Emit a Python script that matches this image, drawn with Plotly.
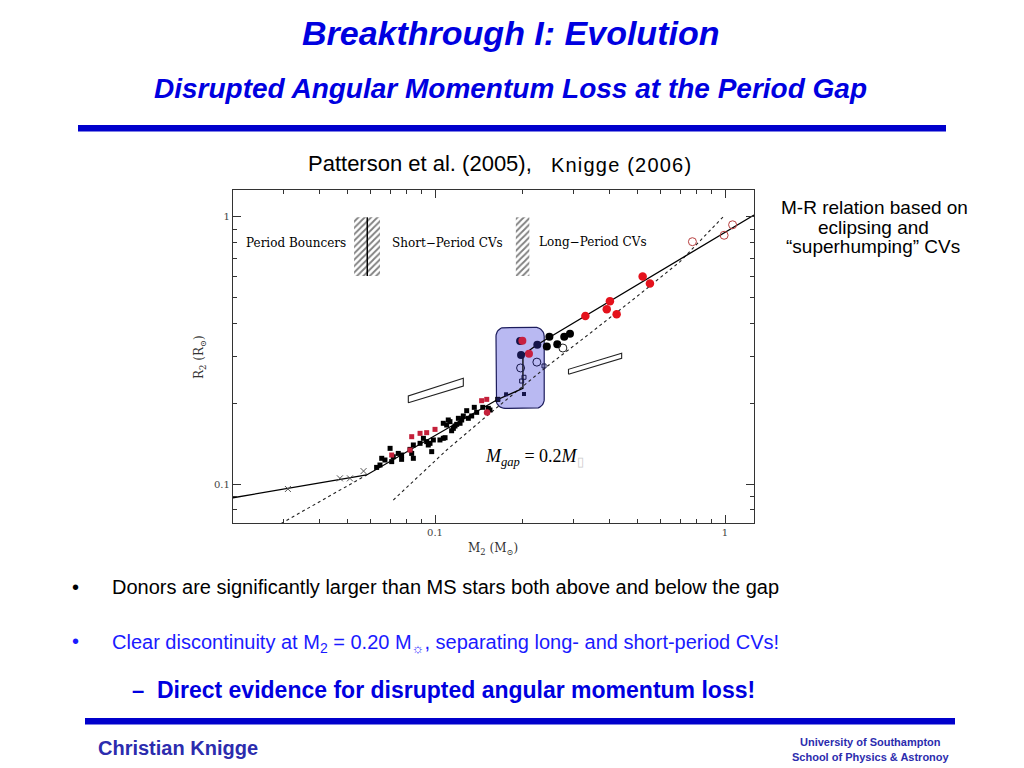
import numpy as np
import plotly.graph_objects as go

# ---------------- data (M2 in Msun, R2 in Rsun) ----------------
# short-period CVs (black squares)
sp_M = [0.1645, 0.1547, 0.1527, 0.1461, 0.1366, 0.1392, 0.1338, 0.1286, 0.1303, 0.1252,
        0.1236, 0.1204, 0.1188, 0.1172, 0.1157, 0.1126, 0.1111, 0.1097, 0.1141, 0.1068,
        0.1083, 0.1040, 0.0987, 0.0961, 0.0936, 0.0948, 0.0912, 0.0888, 0.0842, 0.0842,
        0.0831, 0.0820, 0.0767, 0.0747, 0.0718, 0.0700, 0.0709, 0.0672, 0.0655, 0.0646,
        0.0629, 0.0974, 0.1220, 0.1068, 0.0767]
sp_R = [0.2075, 0.1893, 0.1920, 0.1937, 0.1937, 0.1855, 0.1798, 0.1882, 0.1762, 0.1798,
        0.1737, 0.1762, 0.1673, 0.1649, 0.1616, 0.1712, 0.1737, 0.1663, 0.1583, 0.1688,
        0.1491, 0.1462, 0.1462, 0.1420, 0.1441, 0.1400, 0.1483, 0.1420, 0.1400, 0.1248,
        0.1302, 0.1348, 0.1284, 0.1302, 0.1265, 0.1360, 0.1213, 0.1230, 0.1248, 0.1178,
        0.1154, 0.1322, 0.1688, 0.1483, 0.1237]
# short-period CVs (red squares)
spr_M = [0.1508, 0.1448, 0.1000, 0.0936, 0.0888, 0.0831, 0.0820, 0.0709]
spr_R = [0.2075, 0.2051, 0.1602, 0.1557, 0.1548, 0.1504, 0.1340, 0.1284]
spr_round_M = [0.1512]
spr_round_R = [0.1852]
# period bouncers (crosses)
pb_M = [0.0311, 0.0470, 0.0509, 0.0567]
pb_R = [0.0958, 0.1050, 0.1050, 0.1118]
# long-period CVs
lp_red_M = [0.520, 0.551, 0.401, 0.391, 0.423, 0.330]
lp_red_R = [0.598, 0.564, 0.484, 0.451, 0.432, 0.426]
lp_open_M = [0.772, 0.993, 1.062]
lp_open_R = [0.808, 0.854, 0.935]
lp_blk_M = [0.248, 0.243, 0.264, 0.279, 0.292]
lp_blk_R = [0.356, 0.327, 0.334, 0.356, 0.365]
lp_blk_open_M = [0.276]
lp_blk_open_R = [0.323]
# systems inside the gap box
gap_navy_M = [0.1965, 0.2253, 0.1980]
gap_navy_R = [0.343, 0.332, 0.304]
gap_red_M = [0.2001, 0.2109]
gap_red_R = [0.344, 0.3076]
gap_open_M = [0.1973, 0.2245]
gap_open_R = [0.272, 0.286]
gap_osq_M = [0.199, 0.2027, 0.2376]
gap_osq_R = [0.243, 0.251, 0.2767]
gap_sq_M = [0.1653, 0.1758, 0.2027]
gap_sq_R = [0.2075, 0.2168, 0.2173]
# broken-power-law donor sequence (solid)
model_M = [0.0201, 0.0581, 0.1632, 0.2010, 0.2010, 0.2242, 1.259]
model_R = [0.0888, 0.1081, 0.2064, 0.2282, 0.3041, 0.3317, 1.017]
# dotted reference sequences
msA_M = [0.0295, 0.0581]
msA_R = [0.0712, 0.1081]
msB_M = [0.0718, 0.1097, 0.1547, 0.2427, 0.3423, 0.4960, 0.6996, 0.9865]
msB_R = [0.0871, 0.1341, 0.1840, 0.2750, 0.3667, 0.5030, 0.6803, 1.0025]
# hatched boundaries (period minimum, period gap)
band1_M = [0.0526, 0.0646]
band1_mid = 0.0584
band2_M = [0.190, 0.2115]
band_R = [0.601, 0.997]
# open parallelograms
para1_M = [0.0809, 0.0809, 0.1252, 0.1252]
para1_R = [0.2016, 0.2136, 0.2488, 0.2328]
para2_M = [0.2886, 0.2886, 0.4402, 0.4402]
para2_R = [0.2575, 0.2689, 0.3087, 0.2957]
# highlight box around the gap
box_M = [0.1623, 0.238]
box_R = [0.192, 0.3863]

x_major = [0.1, 1]
x_major_text = ["0.1", "1"]
x_minor = [0.03, 0.04, 0.05, 0.06, 0.07, 0.08, 0.09, 0.2, 0.3, 0.4, 0.5, 0.6, 0.7, 0.8, 0.9]
y_major = [0.1, 1]
y_major_text = ["0.1", "1"]
y_minor = [0.08, 0.09, 0.2, 0.3, 0.4, 0.5, 0.6, 0.7, 0.8, 0.9]

# ---------------- figure ----------------
W, H = 1024, 768
def px(x):
    return x / W
def py(y):
    return 1 - y / H

fig = go.Figure()

# rounded highlight box (built in log space)
lx0, lx1 = np.log10(box_M)
ly0, ly1 = np.log10(box_R)
rx, ry = 9 / 290, 9 / 267
bx, by = [], []
for cx, cy, a0 in [(lx1 - rx, ly1 - ry, 0), (lx0 + rx, ly1 - ry, 90),
                   (lx0 + rx, ly0 + ry, 180), (lx1 - rx, ly0 + ry, 270)]:
    t = np.radians(np.linspace(a0, a0 + 90, 10))
    bx.extend(cx + rx * np.cos(t))
    by.extend(cy + ry * np.sin(t))
bx.append(bx[0]); by.append(by[0])
fig.add_trace(go.Scatter(x=10 ** np.array(bx), y=10 ** np.array(by), mode="lines",
                         fill="toself", fillcolor="#b9b9f2",
                         line=dict(color="#1c1c5c", width=1.2), hoverinfo="skip"))

# hatched bands
for bm in (band1_M, band2_M):
    fig.add_trace(go.Scatter(x=[bm[0], bm[1], bm[1], bm[0], bm[0]],
                             y=[band_R[0], band_R[0], band_R[1], band_R[1], band_R[0]],
                             mode="lines", fill="toself", line=dict(width=0, color="rgba(0,0,0,0)"),
                             fillcolor="white",
                             fillpattern=dict(shape="/", fgcolor="black", bgcolor="white",
                                              size=4.5, solidity=0.4),
                             hoverinfo="skip"))
fig.add_trace(go.Scatter(x=[band1_mid, band1_mid], y=band_R, mode="lines",
                         line=dict(color="black", width=1.5), hoverinfo="skip"))

# dotted sequences
for mm, rr in ((msA_M, msA_R), (msB_M, msB_R)):
    fig.add_trace(go.Scatter(x=mm, y=rr, mode="lines",
                             line=dict(color="#222222", width=1.1, dash="dot"), hoverinfo="skip"))
# solid donor sequence
fig.add_trace(go.Scatter(x=model_M, y=model_R, mode="lines",
                         line=dict(color="black", width=1.3), hoverinfo="skip"))
# parallelograms
for mm, rr in ((para1_M, para1_R), (para2_M, para2_R)):
    fig.add_trace(go.Scatter(x=mm + mm[:1], y=rr + rr[:1], mode="lines",
                             line=dict(color="#222222", width=1.1), hoverinfo="skip"))

# markers
def pts(x, y, symbol, size, color, lc=None, lw=0):
    fig.add_trace(go.Scatter(x=x, y=y, mode="markers",
                             marker=dict(symbol=symbol, size=size, color=color,
                                         line=dict(color=lc or color, width=lw)),
                             hoverinfo="skip"))

pts(pb_M, pb_R, "x-thin", 6, "#555555", "#555555", 1)
pts(sp_M, sp_R, "square", 5, "black")
pts(spr_M, spr_R, "square", 5, "#c4203a")
pts(spr_round_M, spr_round_R, "circle", 6.5, "#c4203a")
pts(gap_sq_M, gap_sq_R, "square", 4, "#15154a")
pts(gap_osq_M, gap_osq_R, "square-open", 4, "#15154a", "#15154a", 1)
pts(gap_open_M, gap_open_R, "circle-open", 8, "#15154a", "#15154a", 1)
pts(gap_navy_M, gap_navy_R, "circle", 8, "#15154a")
pts(gap_red_M, gap_red_R, "circle", 8, "#c8203f")
pts(lp_blk_M, lp_blk_R, "circle", 8, "black")
pts(lp_blk_open_M, lp_blk_open_R, "circle-open", 8, "#222222", "#222222", 1)
pts(lp_red_M, lp_red_R, "circle", 8.5, "#e4121c")
pts(lp_open_M, lp_open_R, "circle-open", 8, "#b84040", "#b84040", 1)

axis_common = dict(type="log", showgrid=False, zeroline=False, showline=True,
                   linecolor="#333333", linewidth=1.2, mirror="ticks",
                   ticks="inside", ticklen=8, tickwidth=1, tickcolor="#333333",
                   tickfont=dict(family="DejaVu Serif", size=10, color="#444444"))
fig.update_layout(
    width=W, height=H, margin=dict(l=0, r=0, t=0, b=0),
    paper_bgcolor="white", plot_bgcolor="white", showlegend=False,
    xaxis=dict(axis_common, range=[-1.6966, 0.1], domain=[px(233), px(754)],
               tickmode="array", tickvals=x_major, ticktext=x_major_text,
               minor=dict(tickmode="array", tickvals=x_minor, ticks="inside",
                          ticklen=4, tickcolor="#333333", showgrid=False)),
    yaxis=dict(axis_common, range=[-1.146, 0.101], domain=[py(523), py(190)],
               tickmode="array", tickvals=y_major, ticktext=y_major_text,
               minor=dict(tickmode="array", tickvals=y_minor, ticks="inside",
                          ticklen=4, tickcolor="#333333", showgrid=False)),
)

SERIF = "DejaVu Serif"
SANS = "Liberation Sans, Arial, sans-serif"
ann = []
def A(text, x, y, size, color="black", family=SANS, xanchor="center", yanchor="middle",
      xref="paper", yref="paper", angle=0):
    ann.append(dict(text=text, x=x, y=y, xref=xref, yref=yref, showarrow=False,
                    xanchor=xanchor, yanchor=yanchor, textangle=angle,
                    font=dict(family=family, size=size, color=color)))

# in-plot labels (data coordinates, log10 for log axes)
A("Period Bouncers", np.log10(0.0332), np.log10(0.799), 12, "#000000", SERIF, xref="x", yref="y")
A("Short\u2212Period CVs", np.log10(0.1104), np.log10(0.799), 12, "#000000", SERIF, xref="x", yref="y")
A("Long\u2212Period CVs", np.log10(0.3508), np.log10(0.804), 12, "#000000", SERIF, xref="x", yref="y")
A("<i>M</i><sub><i>gap</i></sub> = 0.2<i>M</i><sub><span style='color:#cccccc'>\u25af</span></sub>",
  np.log10(0.1464), np.log10(0.1262), 18, "black", "Liberation Serif, Times New Roman, serif",
  xanchor="left", xref="x", yref="y")
# axis titles
A("R<sub>2</sub> (R<sub>\u2299</sub>)", px(200), py(357), 12, "#333333", SERIF, angle=-90)
A("M<sub>2</sub> (M<sub>\u2299</sub>)", px(493), py(549), 12, "#333333", SERIF)

# slide texts
A("<b><i>Breakthrough I: Evolution</i></b>", px(510), py(33), 34, "#0000e0")
A("<b><i>Disrupted Angular Momentum Loss at the Period Gap</i></b>", px(510), py(88), 28, "#0000e0")
A("Patterson et al. (2005),", px(306), py(163), 22, xanchor="left")
A("<span style='letter-spacing:1.2px'>Knigge (2006)</span>", px(549), py(165), 20, xanchor="left")
A("M-R relation based on", px(874), py(208), 19)
A("eclipsing and", px(873), py(227), 19)
A("\u201csuperhumping\u201d CVs", px(873), py(246), 19)
A("\u2022", px(75), py(587), 20)
A("Donors are significantly larger than MS stars both above and below the gap", px(110), py(587), 20, xanchor="left")
A("\u2022", px(75), py(641), 20, "#1a1aff")
A("Clear discontinuity at M<sub>2</sub> = 0.20 M<sub>\u263c</sub>, separating long- and short-period CVs!",
  px(110), py(643), 20, "#1a1aff", xanchor="left")
A("<b>\u2013</b>", px(138), py(690), 22, "#0000e0")
A("<b>Direct evidence for disrupted angular momentum loss!</b>", px(155), py(690), 23, "#0000e0", xanchor="left")
A("<b>Christian Knigge</b>", px(96), py(748), 20, "#2c2cae", xanchor="left")
A("<b>University of Southampton</b>", px(870), py(742), 11, "#2c2cae")
A("<b>School of Physics &amp; Astronoy</b>", px(871), py(757), 11, "#2c2cae")
fig.update_layout(annotations=ann)

# blue rules
fig.update_layout(shapes=[
    dict(type="rect", xref="paper", yref="paper", x0=px(78), x1=px(946), y0=py(131.5), y1=py(125),
         fillcolor="#0000cc", line=dict(width=0)),
    dict(type="rect", xref="paper", yref="paper", x0=px(85), x1=px(955), y0=py(724.5), y1=py(718),
         fillcolor="#0000cc", line=dict(width=0)),
])

fig.write_html("out.html", config={"displayModeBar": False},
               post_script="document.body.style.margin='0px';")
